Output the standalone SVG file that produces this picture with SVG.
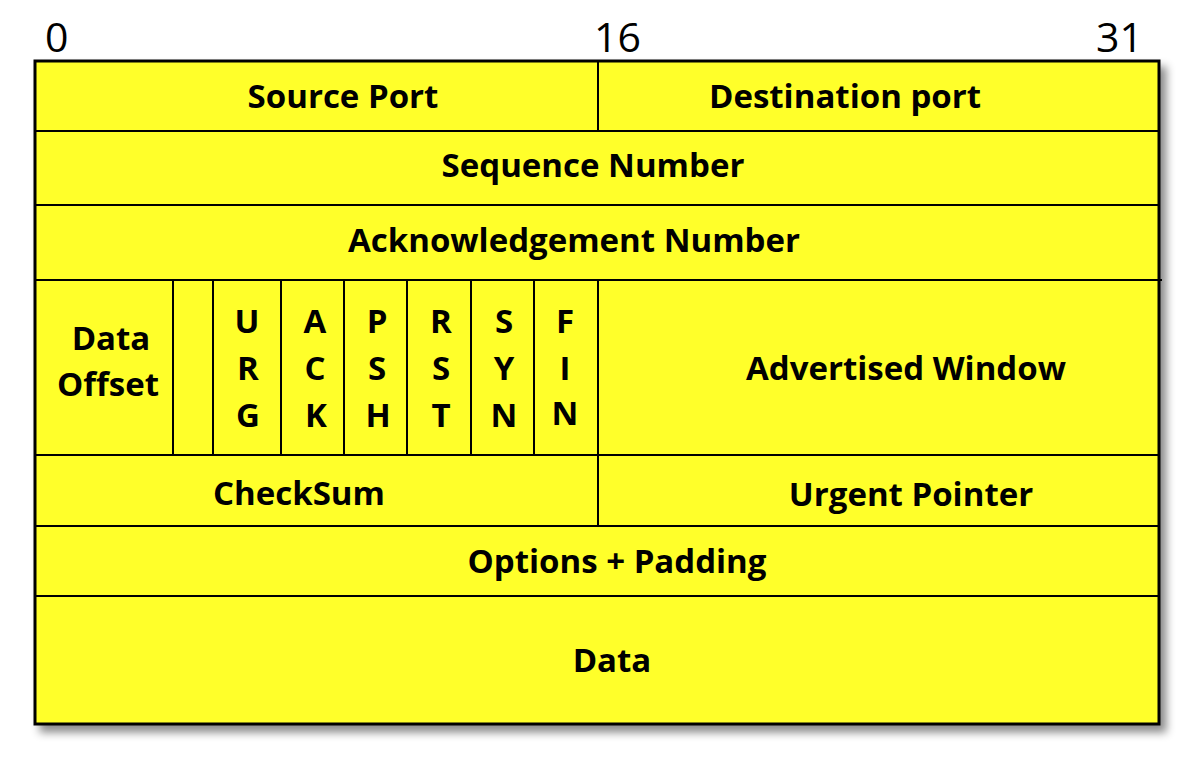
<svg xmlns="http://www.w3.org/2000/svg" width="1187" height="766" viewBox="0 0 1187 766">
<style>
.lbl{font-family:"Open Sans","Liberation Sans",sans-serif;font-weight:bold;font-size:33px;fill:#000;text-anchor:middle}
.num{font-family:"Open Sans","Liberation Sans",sans-serif;font-size:41px;fill:#000}
.ln{stroke:#000;stroke-width:2;fill:none}
</style>
<defs>
<filter id="sh" x="-5%" y="-5%" width="115%" height="115%">
<feDropShadow dx="6" dy="7" stdDeviation="4" flood-color="#000" flood-opacity="0.45"/>
</filter>
</defs>
<rect width="1187" height="766" fill="#fff"/>
<g id="bits">
<text class="num" x="45" y="52">0</text>
<text class="num" x="594" y="52">16</text>
<text class="num" x="1143" y="52" text-anchor="end">31</text>
</g>
<g id="frame">
<rect x="35" y="61" width="1124" height="663" fill="#ffff2a" stroke="#000" stroke-width="3" filter="url(#sh)"/>
</g>
<g id="lines">
<line class="ln" x1="36" y1="131" x2="1159" y2="131"/>
<line class="ln" x1="36" y1="205" x2="1159" y2="205"/>
<line class="ln" x1="36" y1="280" x2="1162" y2="280"/>
<line class="ln" x1="36" y1="455" x2="1159" y2="455"/>
<line class="ln" x1="36" y1="526" x2="1158" y2="526"/>
<line class="ln" x1="36" y1="596" x2="1159" y2="596"/>
<line class="ln" x1="598" y1="62" x2="598" y2="131"/>
<line class="ln" x1="598" y1="280" x2="598" y2="526"/>
<line class="ln" x1="173" y1="280" x2="173" y2="455"/>
<line class="ln" x1="213" y1="280" x2="213" y2="455"/>
<line class="ln" x1="281" y1="280" x2="281" y2="455"/>
<line class="ln" x1="344" y1="280" x2="344" y2="455"/>
<line class="ln" x1="407" y1="280" x2="407" y2="455"/>
<line class="ln" x1="471" y1="280" x2="471" y2="455"/>
<line class="ln" x1="534" y1="280" x2="534" y2="455"/>
</g>
<g id="source-port"><text class="lbl" x="343" y="108">Source Port</text></g>
<g id="destination-port"><text class="lbl" x="845" y="108">Destination port</text></g>
<g id="sequence-number"><text class="lbl" x="593" y="177">Sequence Number</text></g>
<g id="ack-number"><text class="lbl" x="574" y="252">Acknowledgement Number</text></g>
<g id="data-offset"><text class="lbl" x="111" y="350">Data</text><text class="lbl" x="108" y="396">Offset</text></g>
<g id="reserved"></g>
<g id="urg"><text class="lbl" x="247" y="333">U</text><text class="lbl" x="248" y="380">R</text><text class="lbl" x="248" y="427">G</text></g>
<g id="ack"><text class="lbl" x="315" y="333">A</text><text class="lbl" x="315" y="380">C</text><text class="lbl" x="316" y="427">K</text></g>
<g id="psh"><text class="lbl" x="377" y="333">P</text><text class="lbl" x="377" y="380">S</text><text class="lbl" x="378" y="427">H</text></g>
<g id="rst"><text class="lbl" x="441" y="333">R</text><text class="lbl" x="441" y="380">S</text><text class="lbl" x="441" y="427">T</text></g>
<g id="syn"><text class="lbl" x="504" y="333">S</text><text class="lbl" x="504" y="380">Y</text><text class="lbl" x="504" y="427">N</text></g>
<g id="fin"><text class="lbl" x="565" y="333">F</text><text class="lbl" x="565" y="380">I</text><text class="lbl" x="565" y="425">N</text></g>
<g id="advertised-window"><text class="lbl" x="906" y="380">Advertised Window</text></g>
<g id="checksum"><text class="lbl" x="299" y="505">CheckSum</text></g>
<g id="urgent-pointer"><text class="lbl" x="911" y="506">Urgent Pointer</text></g>
<g id="options"><text class="lbl" x="617" y="573">Options + Padding</text></g>
<g id="data"><text class="lbl" x="612" y="672">Data</text></g>
</svg>
